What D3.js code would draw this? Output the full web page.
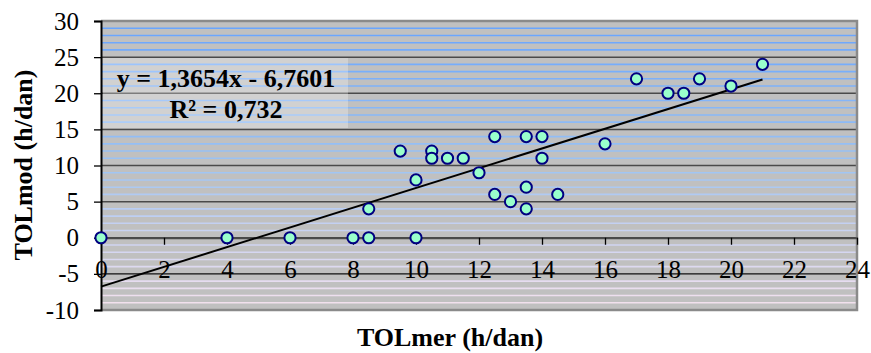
<!DOCTYPE html>
<html>
<head>
<meta charset="utf-8">
<script src="https://cdn.jsdelivr.net/npm/d3@7"></script>
<style>
  html, body { margin: 0; padding: 0; background: #fff; }
  svg { display: block; }
</style>
</head>
<body>
<svg id="chart" width="871" height="353" font-family="'Liberation Serif', 'Times New Roman', serif"></svg>
<script>
// ---- data ----
const tolMer = [0, 4, 6, 8, 8.5, 10, 8.5, 10, 9.5, 10.5, 10.5, 11, 11.5, 12, 12.5, 12.5, 13, 13.5, 13.5, 13.5, 14, 14, 14.5, 16, 17, 18, 18.5, 19, 20, 21];
const tolMod = [0, 0, 0, 0, 0, 0, 4, 8, 12, 12, 11, 11, 11, 9, 14, 6, 5, 14, 7, 4, 14, 11, 6, 13, 22, 20, 20, 22, 21, 24];
const trendSlope = 1.3654;
const trendIntercept = -6.7601;
const equationLines = ["y = 1,3654x - 6,7601", "R² = 0,732"];
const xTicks = [0, 2, 4, 6, 8, 10, 12, 14, 16, 18, 20, 22, 24];
const yTicks = [-10, -5, 0, 5, 10, 15, 20, 25, 30];
const xTitle = "TOLmer (h/dan)";
const yTitle = "TOLmod (h/dan)";

// ---- layout ----
const FONT = "'Liberation Serif', 'Times New Roman', serif";
const P = { left: 101, right: 857, top: 21, bottom: 310 };
const svg = d3.select("#chart");

const x = d3.scaleLinear().domain([0, 24]).range([P.left, P.right]);
const y = d3.scaleLinear().domain([-10, 30]).range([P.bottom, P.top]);

// background
svg.append("rect")
  .attr("x", P.left).attr("y", P.top)
  .attr("width", P.right - P.left).attr("height", P.bottom - P.top)
  .attr("fill", "#c0c0c0");

// striped pattern (one stripe per unit), colour fading from blue to pink
const stripeColor = d3.scaleLinear()
  .domain([-10, 0, 10, 30])
  .range(["#f6e2ee", "#cdd3f2", "#9cc4f4", "#66a3ff"])
  .interpolate(d3.interpolateRgb);
const minor = y.ticks(40).filter(v => v % 5 !== 0);
svg.append("g").selectAll("line").data(minor).join("line")
  .attr("x1", P.left).attr("x2", P.right)
  .attr("y1", d => y(d)).attr("y2", d => y(d))
  .attr("stroke", d => stripeColor(d))
  .attr("stroke-width", 1.6);

// major gridlines
svg.append("g").selectAll("line").data(yTicks.filter(v => v > -10 && v < 30)).join("line")
  .attr("x1", P.left).attr("x2", P.right)
  .attr("y1", d => y(d)).attr("y2", d => y(d))
  .attr("stroke", d => d === -5 ? "#111" : "#4a4a4a")
  .attr("stroke-width", d => d === -5 ? 1.2 : 1.5);

// frame (top, right, bottom)
svg.append("path")
  .attr("d", `M${P.left},${P.top}H${P.right}V${P.bottom}H${P.left}`)
  .attr("fill", "none").attr("stroke", "#8a8a8a").attr("stroke-width", 2.5);

// equation label box
svg.append("rect")
  .attr("x", 103).attr("y", 58).attr("width", 245).attr("height", 70)
  .attr("fill", "#ffffff").attr("fill-opacity", 0.28);

const fmt = d => String(d);

// y axis
const yAxis = svg.append("g")
  .attr("transform", `translate(${P.left},0)`)
  .call(d3.axisLeft(y).tickValues(yTicks).tickSize(7).tickPadding(15).tickFormat(fmt))
  .attr("font-family", FONT).attr("font-size", 25);
yAxis.select(".domain").attr("stroke", "#000").attr("stroke-width", 2);
yAxis.selectAll(".tick line").attr("stroke", "#000").attr("stroke-width", 1.3);
yAxis.selectAll("text").attr("fill", "#000");

// x axis at y = 0
const xAxis = svg.append("g")
  .attr("transform", `translate(0,${y(0)})`)
  .call(d3.axisBottom(x).tickValues(xTicks).tickSize(7).tickPadding(15.5).tickSizeOuter(0).tickFormat(fmt))
  .attr("font-family", FONT).attr("font-size", 25);
xAxis.select(".domain").attr("stroke", "#4a4a4a").attr("stroke-width", 2);
xAxis.selectAll(".tick line").attr("stroke", "#000").attr("stroke-width", 1.3);
xAxis.selectAll("text").attr("fill", "#000");

// trend line
const xExt = d3.extent(tolMer);
svg.append("line")
  .attr("x1", x(xExt[0])).attr("y1", y(trendSlope * xExt[0] + trendIntercept))
  .attr("x2", x(xExt[1])).attr("y2", y(trendSlope * xExt[1] + trendIntercept))
  .attr("stroke", "#000").attr("stroke-width", 2);

// points
const pts = tolMer.map((v, i) => ({ x: v, y: tolMod[i] }));
svg.append("g").selectAll("circle").data(pts).join("circle")
  .attr("cx", d => x(d.x)).attr("cy", d => y(d.y)).attr("r", 5.6)
  .attr("fill", "#99ffcc").attr("stroke", "#000080").attr("stroke-width", 2);

// equation text
svg.append("g").selectAll("text").data(equationLines).join("text")
  .attr("x", 226).attr("y", (d, i) => i === 0 ? 87 : 118)
  .attr("text-anchor", "middle").attr("font-family", FONT)
  .attr("font-size", 26).attr("font-weight", "bold").attr("fill", "#000")
  .text(d => d);

// axis titles
svg.append("text")
  .attr("x", 450).attr("y", 346).attr("font-family", FONT)
  .attr("text-anchor", "middle").attr("font-size", 26).attr("font-weight", "bold")
  .text(xTitle);
svg.append("text")
  .attr("transform", `translate(32,165) rotate(-90)`).attr("font-family", FONT)
  .attr("text-anchor", "middle").attr("font-size", 26).attr("font-weight", "bold")
  .text(yTitle);
</script>
</body>
</html>
